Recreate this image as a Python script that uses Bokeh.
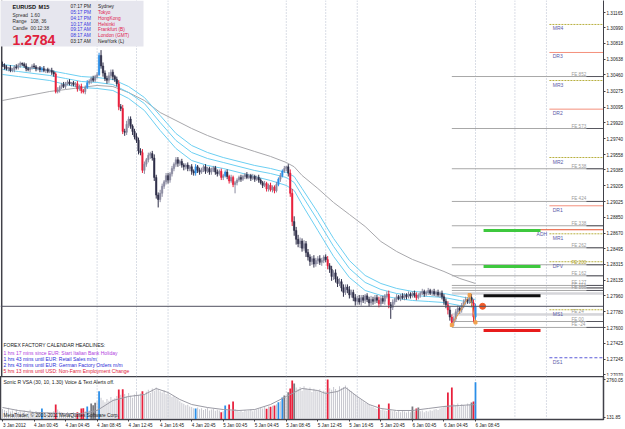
import numpy as np
from bokeh.plotting import figure
from bokeh.layouts import column
from bokeh.models import Range1d, FixedTicker, PrintfTickFormatter, Label, BoxAnnotation, Span, ColumnDataSource
from bokeh.embed import file_html
from bokeh.resources import INLINE
from bokeh.core.properties import value

FONT = "Liberation Sans"

# ---------------- data ----------------
bid = 1.27842
first_open_pips = 13058
close_pips = [
    13057, 13055, 13053, 13054, 13051, 13052, 13055, 13054, 13057, 13059,
    13058, 13056, 13053, 13052, 13054, 13056, 13055, 13053, 13054, 13052,
    13053, 13051, 13052, 13050, 13051, 13049, 13047, 13027, 13029, 13032,
    13035, 13033, 13036, 13038, 13036, 13037, 13035, 13036, 13030, 13033,
    13028, 13027, 13032, 13037, 13039, 13042, 13040, 13044, 13046, 13068,
    13056, 13048, 13042, 13040, 13045, 13049, 13044, 13041, 13036, 13010,
    13008, 12982, 12981, 12990, 12996, 12988, 12982, 12976, 12972, 12960,
    12958, 12938, 12945, 12950, 12955, 12957, 12952, 12930, 12910, 12905,
    12912, 12920, 12925, 12932, 12927, 12934, 12940, 12945, 12950, 12946,
    12948, 12944, 12942, 12944, 12940, 12942, 12937, 12935, 12942, 12938,
    12936, 12939, 12942, 12937, 12940, 12936, 12938, 12941, 12936, 12934,
    12937, 12930, 12932, 12936, 12931, 12926, 12930, 12922, 12924, 12927,
    12930, 12928, 12931, 12933, 12930, 12932, 12929, 12931, 12928, 12930,
    12927, 12924, 12921, 12923, 12917, 12921, 12916, 12919, 12915, 12922,
    12928, 12932, 12937, 12940, 12942, 12935, 12912, 12880, 12870, 12860,
    12855, 12858, 12850, 12855, 12845, 12840, 12835, 12838, 12832, 12836,
    12838, 12834, 12836, 12840, 12837, 12830, 12826, 12818, 12822, 12815,
    12810, 12812, 12805, 12800, 12806, 12803, 12797, 12800, 12794, 12790,
    12793, 12789, 12794, 12791, 12796, 12792, 12788, 12792, 12790, 12794,
    12791, 12787, 12793, 12790, 12796, 12798, 12786, 12783, 12789, 12792,
    12795, 12793, 12796, 12794, 12797, 12795, 12798, 12796, 12799, 12797,
    12794, 12797, 12799, 12801, 12798, 12800, 12802, 12799, 12801, 12798,
    12800, 12797, 12799, 12795, 12790, 12786, 12780, 12772, 12766, 12770,
    12778, 12782, 12780, 12785, 12789, 12792, 12790, 12794, 12788, 12772,
    12784]
upper_wick_pips = [
    3, 2, 2, 1, 3, 2, 2, 3, 2, 2,  1, 2, 3, 2, 1, 2, 3, 2, 1, 2,
    2, 3, 1, 2, 2, 3, 2, 2, 3, 2,  2, 3, 2, 2, 3, 1, 2, 2, 3, 2,
    3, 2, 2, 3, 2, 2, 3, 2, 3, 3,  6, 4, 3, 3, 4, 3, 3, 2, 3, 4,
    3, 4, 3, 4, 3, 3, 2, 3, 4, 3,  3, 4, 3, 2, 3, 2, 3, 4, 3, 3,
    4, 3, 2, 3, 3, 2, 3, 2, 3, 3,  2, 3, 2, 2, 3, 2, 3, 2, 3, 2,
    3, 2, 2, 3, 2, 2, 3, 2, 2, 3,  2, 3, 2, 2, 3, 2, 3, 2, 2, 2,
    2, 3, 2, 2, 3, 2, 2, 3, 2, 2,  3, 2, 2, 3, 2, 2, 3, 2, 2, 3,
    2, 3, 2, 3, 1, 3, 4, 5, 6, 4,  5, 4, 3, 4, 3, 4, 3, 3, 4, 3,
    3, 4, 3, 2, 3, 4, 3, 4, 3, 4,  3, 4, 3, 4, 3, 3, 4, 3, 3, 4,
    3, 4, 3, 3, 2, 3, 3, 4, 3, 3,  3, 4, 3, 3, 2, 3, 4, 3, 3, 2,
    3, 2, 2, 3, 2, 2, 3, 2, 2, 3,  3, 2, 2, 3, 2, 2, 3, 2, 2, 3,
    2, 3, 2, 3, 3, 3, 4, 4, 3, 3,  3, 3, 2, 3, 3, 3, 2, 3, 4, 4,
    3]
lower_wick_pips = [
    2, 3, 2, 3, 2, 2, 3, 2, 2, 3,  2, 2, 3, 2, 3, 2, 2, 3, 2, 3,
    3, 2, 3, 2, 2, 3, 3, 2, 2, 3,  2, 2, 3, 2, 2, 3, 2, 3, 3, 2,
    3, 2, 3, 2, 2, 3, 2, 2, 2, 1,  3, 4, 3, 4, 3, 3, 4, 3, 3, 4,
    3, 3, 4, 3, 4, 3, 4, 3, 3, 4,  3, 3, 4, 3, 3, 4, 3, 4, 4, 9,
    3, 4, 3, 3, 4, 3, 3, 3, 3, 4,  3, 3, 4, 3, 3, 3, 4, 3, 3, 3,
    3, 2, 3, 3, 2, 3, 3, 2, 3, 3,  2, 3, 3, 2, 3, 3, 2, 3, 10, 3,
    2, 3, 2, 3, 2, 2, 3, 2, 3, 2,  3, 2, 3, 2, 3, 3, 2, 3, 3, 2,
    2, 3, 2, 2, 3, 4, 4, 5, 6, 6,  4, 5, 4, 3, 5, 4, 5, 4, 4, 3,
    4, 3, 4, 3, 3, 4, 4, 5, 4, 4,  4, 3, 4, 5, 3, 4, 4, 3, 4, 5,
    4, 3, 4, 3, 4, 3, 4, 3, 4, 3,  3, 4, 3, 3, 4, 3, 4, 13, 3, 3,
    3, 2, 3, 2, 3, 3, 2, 3, 2, 3,  3, 2, 3, 2, 3, 2, 3, 2, 3, 2,
    3, 2, 3, 3, 4, 4, 5, 4, 3, 4,  3, 3, 4, 3, 3, 3, 3, 3, 4, 6,
    6]
volume = [
    720, 650, 580, 800, 540, 610, 470, 690, 520, 560,
    480, 620, 430, 510, 660, 390, 450, 580, 420, 500,
    760, 430, 380, 520, 460, 350, 560, 1030, 690, 540,
    470, 420, 380, 510, 440, 360, 490, 410, 500, 450,
    760, 780, 560, 890, 620, 1100, 980, 1150, 1240, 1950,
    1500, 1320, 1180, 1410, 1290, 1550, 1380, 1460, 1620, 2070,
    1700, 2090, 1750, 1580, 1820, 1640, 1500, 1720, 1880, 1690,
    1800, 1950, 1760, 1920, 2050, 1830, 2140, 1980, 2200, 2080,
    1950, 1870, 2010, 1760, 1820, 1690, 1560, 1620, 1480, 1400,
    1250, 1150, 1080, 980, 1020, 900, 860, 780, 760, 820,
    700, 780, 650, 720, 830, 610, 680, 740, 590, 660,
    620, 500, 560, 965, 640, 1031, 580, 1240, 700, 610,
    540, 600, 520, 650, 580, 620, 700, 560, 640, 690,
    720, 800, 760, 880, 740, 900, 880, 950, 965, 1050,
    1190, 1250, 1516, 1654, 1500, 1882, 2139, 2692, 2480, 2200,
    2100, 2250, 1980, 2300, 2150, 2050, 2200, 1900, 2120, 2000,
    1950, 2080, 1870, 1980, 1900, 2760.05, 2150, 2050, 2250, 2100,
    2000, 2300, 2150, 2250, 2350, 2200, 2050, 1950, 1800, 1700,
    1600, 1450, 1380, 1250, 1150, 1100, 1000, 900, 850, 780,
    720, 1031, 650, 700, 620, 580, 1100, 640, 560, 600,
    520, 580, 500, 620, 540, 480, 560, 500, 893, 540,
    755, 830, 560, 620, 500, 580, 540, 640, 600, 680,
    720, 650, 760, 800, 880, 950, 1860, 1000, 2200, 1050,
    980, 1100, 900, 1050, 1000, 950, 1100, 1020, 1170, 1240,
    2575]
red_bars = [27, 38, 40, 41, 59, 61, 71, 111, 115, 117, 134, 136, 138, 146, 147,
            165, 191, 196, 210, 226, 228, 239]
blue_bars = [20, 43, 49, 98, 113, 140, 142, 240]
dark_bars = [45, 46, 47, 143, 145, 148, 208, 211, 238]

ema_bars = [0, 8, 16, 24, 32, 40, 48, 56, 64, 72, 80, 88, 96, 104, 112, 120, 128, 136,
            144, 148, 152, 160, 168, 176, 184, 192, 200, 208, 216, 224, 232, 240]
ema_high = [1.30577, 1.30555, 1.30532, 1.30509, 1.30475, 1.30441, 1.30430, 1.30408,
            1.30328, 1.30204, 1.30000, 1.29797, 1.29661, 1.29582, 1.29525, 1.29480,
            1.29435, 1.29401, 1.29356, 1.29310, 1.29175, 1.28903, 1.28609, 1.28360,
            1.28191, 1.28100, 1.28044, 1.28010, 1.27998, 1.27987, 1.27953, 1.27919]
ema_close = [1.30521, 1.30498, 1.30475, 1.30453, 1.30419, 1.30385, 1.30374, 1.30351,
             1.30260, 1.30136, 1.29921, 1.29718, 1.29582, 1.29514, 1.29469, 1.29423,
             1.29378, 1.29344, 1.29299, 1.29243, 1.29096, 1.28813, 1.28519, 1.28270,
             1.28112, 1.28032, 1.27987, 1.27965, 1.27953, 1.27942, 1.27908, 1.27874]
ema_low = [1.30464, 1.30441, 1.30419, 1.30396, 1.30351, 1.30317, 1.30306, 1.30283,
           1.30193, 1.30057, 1.29831, 1.29627, 1.29491, 1.29435, 1.29401, 1.29356,
           1.29310, 1.29265, 1.29209, 1.29152, 1.28994, 1.28700, 1.28406, 1.28168,
           1.28021, 1.27965, 1.27931, 1.27908, 1.27897, 1.27885, 1.27851, 1.27829]
ema_slow = [1.30170, 1.30204, 1.30238, 1.30272, 1.30294, 1.30317, 1.30340, 1.30328,
            1.30260, 1.30170, 1.30034, 1.29944, 1.29853, 1.29774, 1.29706, 1.29650,
            1.29593, 1.29537, 1.29469, 1.29420, 1.29322, 1.29175, 1.29016, 1.28881,
            1.28745, 1.28575, 1.28462, 1.28372, 1.28304, 1.28236, 1.28157, 1.28100]

vol_ma_bars = [0, 8, 16, 24, 32, 40, 48, 56, 64, 72, 78, 84, 90, 96, 104, 112, 120, 128,
               136, 144, 152, 160, 164, 170, 174, 180, 186, 192, 200, 208, 216, 224, 232, 240]
vol_ma = [824, 616, 478, 443, 409, 409, 616, 1308, 1585, 1723, 2139, 1862, 1377, 1031,
          824, 685, 616, 685, 1031, 1585, 2139, 2000, 1793, 1931, 2208, 1585, 1031, 755,
          616, 616, 755, 893, 962, 1031]

x_tick_bars = [0, 16, 32, 48, 64, 80, 96, 112, 128, 144, 160, 176, 192, 208, 224, 240]
x_tick_labels = ["3 Jan 2012", "4 Jan 00:45", "4 Jan 04:45", "4 Jan 08:45", "4 Jan 12:45",
                 "4 Jan 16:45", "4 Jan 20:45", "5 Jan 00:45", "5 Jan 04:45", "5 Jan 08:45",
                 "5 Jan 12:45", "5 Jan 16:45", "5 Jan 20:45", "6 Jan 00:45", "6 Jan 04:45",
                 "6 Jan 08:45"]
price_ticks = [1.31165, 1.30990, 1.30818, 1.30638, 1.30460, 1.30275, 1.30095, 1.29920,
               1.29740, 1.29558, 1.29385, 1.29205, 1.29025, 1.28850, 1.28670, 1.28495,
               1.28315, 1.28135, 1.27960, 1.27780, 1.27600, 1.27425, 1.27245, 1.27070]
vol_ticks = [131.85, 2760.05]
session_bars = [48, 68, 84, 144, 164, 180, 240, 260, 276]

fe_labels = ["FE 852", "FE 573", "FE 538", "FE 424", "FE 338", "FE 262", "FE 200", "FE 162",
             "FE 127", "FE 113", "FE 100", "FE  24", "FE  00", "FE -24"]
fe_levels = [1.30441, 1.29853, 1.29398, 1.29028, 1.28753, 1.28504, 1.28312, 1.28187,
             1.28078, 1.28050, 1.28021, 1.27750, 1.27670, 1.27603]
pivot_labels = ["MR4", "DR3", "MR3", "DR2", "MR2", "DR1", "MR1", "DPV", "MS1", "DS1"]
pivot_levels = [1.31030, 1.30713, 1.30396, 1.30072, 1.29525, 1.28979, 1.28662, 1.28346,
                1.27803, 1.27260]
pivot_kind = ["M", "D", "M", "D", "M", "D", "M", "M", "M", "S"]
adh_level = 1.28708
band_levels = [1.27987, 1.27750]
green_levels = [1.28700, 1.28293]
black_levels = [1.27961]
red_levels = [1.27569]
zigzag_bars = [228, 237, 240]
zigzag_prices = [1.27630, 1.27970, 1.27660]

clock_times = ["07:17 PM", "05:17 PM", "04:17 PM", "10:17 AM", "09:17 AM", "08:17 AM", "03:17 AM"]
clock_cities = ["Sydney", "Tokyo", "HongKong", "Helsinki", "Frankfurt (B)", "London (GMT)", "NewYork (L)"]
headlines = [("1 hrs 17 mins since EUR: Start Italian Bank Holiday", "#b03ee0"),
             ("1 hrs 43 mins until EUR: Retail Sales m/m", "#2a2ad8"),
             ("2 hrs 43 mins until EUR: German Factory Orders m/m", "#2a2ad8"),
             ("5 hrs 13 mins until USD: Non-Farm Employment Change", "#e0203a")]

# ---------------- layout constants ----------------
FRAME_W, FRAME_H, VOL_H = 603, 376, 43
BAR_PX = 1.9708
X0 = -1.015
X1 = X0 + FRAME_W / BAR_PX
P_TOP, P_BOT = 1.31301, 1.27048
PPX = (P_TOP - P_BOT) / FRAME_H
FE_START, FE_DARK, PIV_START = 228, 296.3, 277.5
BAR_A, BAR_B, ADH_START = 244.1, 273.0, 269.4
X_END = X1 + 3
AXIS_FONT = 4.6
# the terminal writes each date to the right of its tick; Bokeh centres axis labels,
# so the label anchor sits half a label width (in bars) right of the tick bar
LABEL_HALF_BARS = 0.5 * 5.2 * AXIS_FONT / BAR_PX

# ---------------- OHLC ----------------
n = len(close_pips)
idx = np.arange(n)
closes = np.array(close_pips) / 10000.0
opens = np.concatenate([[first_open_pips / 10000.0], closes[:-1]])
highs = np.maximum(opens, closes) + np.array(upper_wick_pips) / 10000.0
lows = np.minimum(opens, closes) - np.array(lower_wick_pips) / 10000.0

RED, BLUE, DARK = "#e8203c", "#2a8ee8", "#7a7a80"
candle_colors = []
vol_colors = []
vol_widths = []
for i in range(n):
    if i in red_bars:
        c, vc, w = RED, RED, 0.9
    elif i in blue_bars:
        c, vc, w = BLUE, BLUE, 0.9
    elif i in dark_bars:
        c, vc, w = None, DARK, 0.9
    else:
        c, vc, w = None, "#c6c6ce", 0.5
    if c is None:
        c = "#8a8aa0" if closes[i] >= opens[i] else "#2e2e48"
    candle_colors.append(c)
    vol_colors.append(vc)
    vol_widths.append(w)

src = ColumnDataSource(dict(x=idx, o=opens, c=closes, h=highs, l=lows,
                            top=np.maximum(opens, closes), bot=np.minimum(opens, closes),
                            color=candle_colors))

# ---------------- main figure ----------------
p = figure(frame_width=FRAME_W, frame_height=FRAME_H, x_range=Range1d(X0, X1),
           y_range=Range1d(P_BOT, P_TOP), output_backend="svg", toolbar_location=None,
           x_axis_location=None, y_axis_location="right",
           min_border_left=0, min_border_right=0, min_border_top=0, min_border_bottom=0)
p.grid.visible = False
p.outline_line_color = None
p.background_fill_color = "white"
ya = p.yaxis[0]
ya.ticker = FixedTicker(ticks=price_ticks)
ya.formatter = PrintfTickFormatter(format="%.5f")
ya.major_label_text_font = FONT
ya.major_label_text_font_size = f"{AXIS_FONT}px"
ya.major_label_text_color = "#202020"
ya.major_tick_out = 2
ya.major_tick_in = 0
ya.minor_tick_out = 0
ya.minor_tick_in = 0
ya.major_label_standoff = 1
ya.axis_line_color = "#404048"
ya.major_tick_line_color = "#404048"

for b in session_bars:
    p.add_layout(Span(location=b, dimension="height", line_color="#b4bccc",
                      line_dash="1 2", line_width=1, level="underlay"))
p.add_layout(Span(location=X0 + 0.6, dimension="height", line_color="#404048", line_width=1.5))

# FE lines
p.segment(x0=[FE_START] * len(fe_levels), y0=fe_levels, x1=[X_END] * len(fe_levels), y1=fe_levels,
          line_color="#a8a8a8", line_width=1)
p.segment(x0=[FE_DARK] * len(fe_levels), y0=fe_levels, x1=[X_END] * len(fe_levels), y1=fe_levels,
          line_color="#585860", line_width=1)
p.segment(x0=[FE_START] * len(band_levels), y0=band_levels, x1=[X_END] * len(band_levels), y1=band_levels,
          line_color="#d6d6da", line_width=2.5)
fe_cols = ["#b0a030" if t == "FE 200" else "#9a9a9a" for t in fe_labels]
p.text(x=[288.7] * len(fe_levels), y=fe_levels, text=fe_labels, text_font=value(FONT),
       text_font_size="4.6px", text_color=fe_cols, text_baseline="bottom", y_offset=0)

# pivot lines
piv_color = {"M": "#b8b040", "D": "#f4907c", "S": "#5a5ad8"}
piv_dash = {"M": "2 1", "D": "solid", "S": "3 2"}
for lv, k in zip(pivot_levels, pivot_kind):
    p.segment(x0=[PIV_START], y0=[lv], x1=[X_END], y1=[lv], line_color=piv_color[k],
              line_width=1, line_dash=piv_dash[k])
p.text(x=[279.2] * len(pivot_levels), y=pivot_levels, text=pivot_labels, text_font=value(FONT),
       text_font_size="5px", text_color="#5a5aa8", text_baseline="top", y_offset=1)
p.segment(x0=[ADH_START], y0=[adh_level], x1=[X_END], y1=[adh_level], line_color="#e8502c", line_width=1)
p.text(x=[271.0], y=[adh_level], text=["ADH"], text_font=value(FONT), text_font_size="5px",
       text_color="#5a5aa8", text_baseline="top", y_offset=1)

# thick target bars
for levels, col in ((green_levels, "#3ec83e"), (black_levels, "#101010"), (red_levels, "#e81c1c")):
    p.segment(x0=[BAR_A] * len(levels), y0=levels, x1=[BAR_B] * len(levels), y1=levels,
              line_color=col, line_width=3)

# bid line
p.add_layout(Span(location=bid, dimension="width", line_color="#505060", line_width=1))

# EMAs
p.line(ema_bars, ema_slow, line_color="#a8a8ac", line_width=1)
for arr in (ema_high, ema_close, ema_low):
    p.line(ema_bars, arr, line_color="#6ccff2", line_width=1)

# candles
p.segment(x0="x", y0="l", x1="x", y1="h", line_color="color", line_width=1, source=src)
p.vbar(x="x", width=0.75, top="top", bottom="bot", fill_color="color", line_color="color",
       line_width=0.5, source=src)

# zigzag
p.line(zigzag_bars, zigzag_prices, line_color="#f0a04c", line_width=1)
p.scatter(zigzag_bars, zigzag_prices, marker="square", size=3, color="#f0a04c")
p.scatter([243.6], [bid], size=6, color="#f25a28")

# current price box
p.add_layout(Label(x=X1 + 0.9, y=bid, text="1.27842", text_font=FONT, text_font_size="4.6px",
                   text_color="white", text_baseline="middle", background_fill_color="black"))

# info box
p.add_layout(BoxAnnotation(left=X0, right=X0 + 143 / BAR_PX, top=P_TOP, bottom=P_TOP - 46 * PPX,
                           fill_color="#e6e6ee", fill_alpha=1.0, line_color=None))


def lab(fig, x, ytop, text, size, color, bold=False, fh=FRAME_H):
    fig.add_layout(Label(x=x, y=fh - ytop, x_units="screen", y_units="screen", text=text,
                         text_font=FONT, text_font_size=f"{size}px", text_color=color,
                         text_baseline="middle",
                         text_font_style="bold" if bold else "normal"))


lab(p, 12, 6, "EURUSD", 5.6, "#101010", True)
lab(p, 38, 6, "M15", 5.6, "#101010", True)
for ytop, k, v in ((14.5, "Spread", "1.60"), (21.3, "Range", "108, 36"), (28.3, "Candle", "00:12:38")):
    lab(p, 12, ytop, k, 4.8, "#303030")
    lab(p, 30, ytop, v, 4.8, "#303030")
lab(p, 12, 39.5, "1.2784", 14, "#e0203c", True)
row_y = [6, 12, 17.8, 23.6, 29.4, 35.2, 41]
for j, (t, c) in enumerate(zip(clock_times, clock_cities)):
    tc = "#202020" if j in (0, 6) else "#3434e0"
    cc = "#202020" if j in (0, 6) else "#e02050"
    lab(p, 70, row_y[j], t, 4.8, tc)
    lab(p, 97.5, row_y[j], c, 4.8, cc)

lab(p, 3, 344.5, "FOREX FACTORY CALENDAR HEADLINES:", 5, "#202020")
for (t, c), yy in zip(headlines, [352, 358.3, 364.5, 370.6]):
    lab(p, 3, yy, t, 5, c)

# ---------------- volume figure ----------------
v = figure(frame_width=FRAME_W, frame_height=VOL_H, x_range=p.x_range,
           y_range=Range1d(-7, 2969), output_backend="svg", toolbar_location=None,
           x_axis_location="below", y_axis_location="right",
           min_border_left=0, min_border_right=0, min_border_top=0, min_border_bottom=0)
v.grid.visible = False
v.outline_line_color = "#404048"
v.outline_line_width = 1.5
for b in session_bars:
    v.add_layout(Span(location=b, dimension="height", line_color="#b4bccc",
                      line_dash="1 2", line_width=1, level="underlay"))
vsrc = ColumnDataSource(dict(x=idx, top=volume, color=vol_colors, w=vol_widths))
v.vbar(x="x", width="w", top="top", bottom=0, fill_color="color", line_color=None, source=vsrc)
v.line(vol_ma_bars, vol_ma, line_color="#9a9aa4", line_width=1)

va = v.yaxis[0]
va.ticker = FixedTicker(ticks=vol_ticks)
va.formatter = PrintfTickFormatter(format="%.2f")
va.major_tick_out = 2
xa = v.xaxis[0]
label_anchor = [b + LABEL_HALF_BARS for b in x_tick_bars]
xa.ticker = FixedTicker(ticks=label_anchor, minor_ticks=x_tick_bars)
xa.major_label_overrides = {a: t for a, t in zip(label_anchor, x_tick_labels)}
xa.major_tick_out = 0
xa.minor_tick_out = 2
xa.minor_tick_line_color = "#404048"
for ax in (va, xa):
    ax.major_label_text_font = FONT
    ax.major_label_text_font_size = f"{AXIS_FONT}px"
    ax.major_label_text_color = "#202020"
    ax.major_tick_in = 0
    ax.minor_tick_in = 0
    ax.major_label_standoff = 1
    ax.axis_line_color = "#404048"
    ax.major_tick_line_color = "#404048"
va.minor_tick_out = 0

lab(v, 3, 5, "Sonic R VSA  (30, 10, 1.30)  Voice & Text Alerts off.", 5, "#202020", fh=VOL_H)
lab(v, 3, 39, "MetaTrader, \u00a9 2001-2011 MetaQuotes Software Corp.", 4.8, "#202020", fh=VOL_H)

layout = column(p, v, spacing=0)
open("out.html", "w").write(file_html(layout, INLINE))
